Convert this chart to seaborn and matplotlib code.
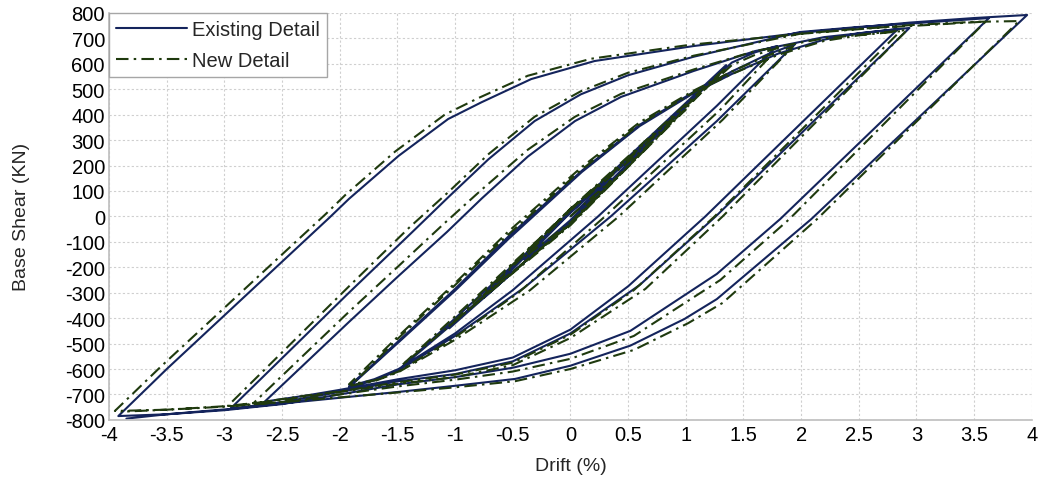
import numpy as np
import pandas as pd
import seaborn as sns
import matplotlib

matplotlib.use('Agg')
import matplotlib.pyplot as plt

# hysteresis path (drift %, base shear kN)
existing_drift = [
    0, 0.35, 0, -0.4, 0, 0.7, 0, -0.75, 0, 1.0, 0, -1.05, 0, 1.35, 0, -1.46, 0, 1.4, 1.6, 1.79,  # elastic band
    1.27, 0.24, -0.5, -1.0, -1.49, -1.7, -1.92,  # unload 2%
    -1.49, -1.0, -0.54, 0.1, 0.6, 1.07, 1.4, 1.7, 1.95,  # reload 2%
    1.27, 0.35, -0.4, -1.0, -1.49, -1.7, -1.92,  # unload 2%
    -1.49, -1.0, -0.54, 0.1, 0.6, 1.07, 1.4, 1.8, 2.2, 2.5, 2.84,  # reload to 3%
    1.17, 0.5, 0, -0.5, -1.0, -1.49, -2.0, -2.3, -2.65,  # unload 3%
    -1.92, -1.49, -1.07, -0.77, -0.37, 0.04, 0.44, 1.07, 1.6, 2.2, 2.94,  # reload 3%
    1.26, 0.6, 0, -0.5, -1.0, -1.49, -2.0, -2.5, -2.95,  # unload 3%
    -1.92, -1.37, -1.06, -0.71, -0.31, 0.09, 0.5, 1.07, 1.99, 2.5, 3.0, 3.63,  # reload to 4%
    1.82, 1.27, 0.52, 0, -0.5, -1.0, -1.49, -2.0, -2.5, -3.0, -3.5, -3.92,  # unload 4%
    -3.5, -2.09, -1.92, -1.49, -1.06, -0.77, -0.34, 0.21, 1.07, 2.0, 2.94, 3.5, 3.96,  # reload 4%
    2.09, 1.27, 0.99, 0.52, 0, -0.48, -1.0, -1.49, -2.35, -2.95, -3.5, -3.85,  # unload 4%
]
existing_shear = [
    0, 150, -15, -170, 15, 300, -20, -320, 20, 430, -20, -440, 20, 595, -25, -592, 15, 605, 645, 670,
    435, 0, -290, -460, -600, -640, -668,
    -490, -285, -80, 180, 360, 490, 570, 635, 678,
    375, 0, -280, -470, -605, -645, -672,
    -495, -292, -90, 175, 355, 485, 560, 640, 695, 720, 737,
    0, -275, -445, -555, -605, -640, -682, -705, -728,
    -415, -234, -61, 70, 235, 375, 470, 572, 650, 705, 741,
    0, -270, -460, -570, -620, -648, -690, -730, -757,
    -300, -61, 75, 225, 375, 480, 555, 628, 725, 745, 760, 780,
    -10, -226, -450, -540, -595, -632, -660, -700, -738, -762, -778, -785,
    -600, -5, 69, 238, 383, 449, 540, 611, 670, 722, 762, 780, 792,
    -10, -325, -403, -508, -587, -639, -666, -690, -729, -757, -778, -795,
]

new_drift = [
    0, 0.35, 0, -0.4, 0, 0.7, 0, -0.75, 0, 1.0, 0, -1.05, 0, 1.35, 0, -1.46, 0, 1.4, 1.6, 1.8,
    1.3, 0.3, -0.45, -1.0, -1.49, -1.7, -1.92,
    -1.49, -1.0, -0.54, 0.1, 0.6, 1.07, 1.4, 1.7, 1.93,
    1.32, 0.42, -0.35, -1.0, -1.49, -1.7, -1.9,
    -1.49, -1.0, -0.54, 0.1, 0.6, 1.07, 1.4, 1.8, 2.2, 2.5, 2.86,
    1.25, 0.55, 0, -0.5, -1.0, -1.49, -2.0, -2.3, -2.75,
    -1.92, -1.49, -1.1, -0.77, -0.37, 0.04, 0.44, 1.07, 1.6, 2.2, 2.92,
    1.32, 0.65, 0, -0.5, -1.0, -1.49, -2.0, -2.5, -2.97,
    -1.92, -1.4, -1.06, -0.71, -0.31, 0.09, 0.5, 1.07, 1.99, 2.5, 3.0, 3.6,
    1.9, 1.3, 0.55, 0, -0.5, -1.0, -1.49, -2.0, -2.5, -3.0, -3.5, -3.95,
    -3.55, -2.12, -1.95, -1.52, -1.09, -0.8, -0.37, 0.18, 1.04, 2.0, 2.94, 3.5, 3.89,
    2.14, 1.32, 1.02, 0.55, 0, -0.48, -1.0, -1.49, -2.35, -2.95, -3.5, -3.9,
]
new_shear = [
    0, 140, -25, -160, 25, 290, -30, -310, 30, 420, -30, -430, 30, 585, -35, -585, 25, 595, 635, 662,
    420, 0, -300, -475, -610, -645, -660,
    -470, -262, -60, 195, 370, 495, 570, 630, 668,
    380, 0, -290, -485, -612, -648, -665,
    -478, -270, -72, 185, 362, 488, 560, 635, 690, 712, 728,
    0, -290, -465, -575, -622, -652, -688, -705, -735,
    -375, -195, -30, 105, 262, 392, 482, 578, 650, 700, 733,
    0, -285, -478, -585, -632, -658, -690, -722, -745,
    -275, -45, 95, 245, 392, 492, 565, 632, 718, 738, 750, 766,
    -10, -250, -470, -560, -610, -642, -668, -700, -730, -748, -760, -765,
    -590, 10, 85, 255, 400, 465, 553, 620, 675, 718, 752, 765, 768,
    -10, -340, -420, -525, -600, -648, -672, -692, -725, -745, -760, -768,
]

x_ticks = [-4, -3.5, -3, -2.5, -2, -1.5, -1, -0.5, 0, 0.5, 1, 1.5, 2, 2.5, 3, 3.5, 4]
y_ticks = list(range(-800, 801, 100))


def build_frame():
    ex = pd.DataFrame({'Drift': existing_drift, 'Shear': existing_shear, 'Detail': 'Existing Detail'})
    nw = pd.DataFrame({'Drift': new_drift, 'Shear': new_shear, 'Detail': 'New Detail'})
    return pd.concat([ex, nw], ignore_index=True)


def main():
    sns.set_style('white')
    plt.rcParams['font.family'] = ['Liberation Sans', 'DejaVu Sans']

    frame = build_frame()

    fig, ax = plt.subplots(figsize=(10.39, 4.81), dpi=100)
    fig.subplots_adjust(left=0.105, right=0.993, top=0.971, bottom=0.125)

    sns.lineplot(data=frame, x='Drift', y='Shear', hue='Detail', style='Detail',
                 sort=False, estimator=None, ax=ax,
                 palette={'Existing Detail': '#14245c', 'New Detail': '#1f3a0e'},
                 dashes={'Existing Detail': '', 'New Detail': (6, 2.5, 1.2, 2.5)},
                 linewidth=1.5)

    ax.set_xlim(-4, 4)
    ax.set_ylim(-800, 800)
    ax.set_xticks(x_ticks, labels=[f'{t:g}' for t in x_ticks])
    ax.set_yticks(y_ticks, labels=[str(t) for t in y_ticks])
    ax.tick_params(axis='both', length=0, labelsize=14.5, colors='black')
    ax.tick_params(axis='y', pad=3)
    ax.tick_params(axis='x', pad=4)

    ax.grid(True, color='#cfcfcf', linestyle=(0, (2, 2)), linewidth=0.8)
    for side in ['top', 'right']:
        ax.spines[side].set_visible(False)
    for side in ['left', 'bottom']:
        ax.spines[side].set_color('#bdbdbd')
        ax.spines[side].set_linewidth(1.2)

    ax.set_xlabel('Drift (%)', fontsize=14, labelpad=9)
    ax.set_ylabel('Base Shear (KN)', fontsize=14, labelpad=25)

    leg = ax.legend(loc='upper left', bbox_to_anchor=(0, 1.0), borderaxespad=0,
                    fontsize=14.5, handlelength=3.5, labelspacing=0.6,
                    fancybox=False, framealpha=1, edgecolor='#a6a6a6',
                    borderpad=0.35, handletextpad=0.25)
    leg.get_frame().set_linewidth(1.0)

    fig.savefig('out.png', dpi=100)


if __name__ == '__main__':
    main()
